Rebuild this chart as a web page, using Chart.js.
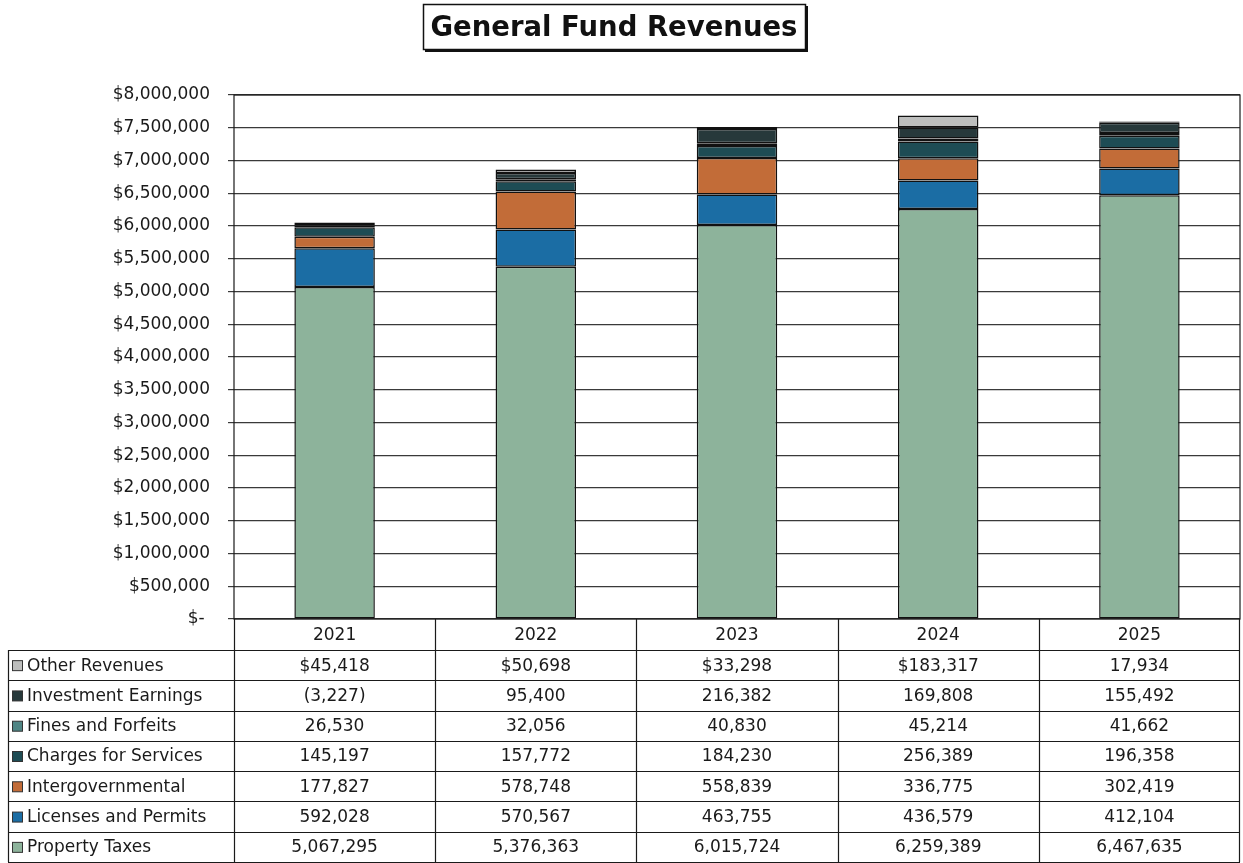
<!DOCTYPE html>
<html>
<head>
<meta charset="utf-8">
<script src="https://cdn.jsdelivr.net/npm/chart.js@4/dist/chart.umd.min.js"></script>
<style>
  html, body { margin: 0; padding: 0; background: #fff; }
  #wrap { width: 1243px; height: 863px; position: relative; }
</style>
</head>
<body>
<div id="wrap"><canvas id="chart"></canvas></div>
<script>
// data
const years = ['2021', '2022', '2023', '2024', '2025'];
const propertyTaxes = [5067295, 5376363, 6015724, 6259389, 6467635];
const licensesPermits = [592028, 570567, 463755, 436579, 412104];
const intergovernmental = [177827, 578748, 558839, 336775, 302419];
const chargesServices = [145197, 157772, 184230, 256389, 196358];
const finesForfeits = [26530, 32056, 40830, 45214, 41662];
const investmentEarnings = [-3227, 95400, 216382, 169808, 155492];
const otherRevenues = [45418, 50698, 33298, 183317, 17934];
// the first table row shows a $ sign in some years only
const otherDollar = [true, true, true, true, false];

const FONT = '"DejaVu Sans", Verdana, sans-serif';

const fmt = (v, dollar) => {
    const s = Math.abs(v).toLocaleString('en-US');
    if (v < 0) return '(' + s + ')';
    return (dollar ? '$' : '') + s;
};

// bottom to top in the stack
const series = [
    { label: 'Property Taxes', data: propertyTaxes, color: '#8db39b' },
    { label: 'Licenses and Permits', data: licensesPermits, color: '#1b6da4' },
    { label: 'Intergovernmental', data: intergovernmental, color: '#c26c38' },
    { label: 'Charges for Services', data: chargesServices, color: '#1e4c54' },
    { label: 'Fines and Forfeits', data: finesForfeits, color: '#4f8584' },
    { label: 'Investment Earnings', data: investmentEarnings, color: '#27393b' },
    { label: 'Other Revenues', data: otherRevenues, color: '#bdbebd' },
];

const titlePlugin = {
    id: 'boxTitle',
    afterDraw(chart) {
        const ctx = chart.ctx;
        ctx.save();
        ctx.font = 'bold 27.5px ' + FONT;
        ctx.fillStyle = '#111';
        ctx.textAlign = 'center';
        ctx.textBaseline = 'middle';
        ctx.fillText('General Fund Revenues', 614, 29);
        ctx.strokeStyle = '#111';
        ctx.lineWidth = 1.5;
        ctx.strokeRect(423.5, 4.5, 382, 45);
        // little shadow on bottom and right
        ctx.lineWidth = 2;
        ctx.beginPath();
        ctx.moveTo(425, 51);
        ctx.lineTo(807, 51);
        ctx.lineTo(807, 6);
        ctx.stroke();
        ctx.restore();
    }
};

const tablePlugin = {
    id: 'dataTable',
    afterDraw(chart) {
        const { ctx, chartArea } = chart;
        const x = chart.scales.x;
        const half = (x.getPixelForValue(1) - x.getPixelForValue(0)) / 2;
        const top = chartArea.bottom;
        const headBottom = 650;
        const bottom = 862;
        const leftEdge = 8;
        const rows = series.slice().reverse();
        const rowH = (bottom - headBottom) / rows.length;

        ctx.save();
        // plot frame
        ctx.strokeStyle = '#1a1a1a';
        ctx.lineWidth = 1.2;
        ctx.strokeRect(chartArea.left, chartArea.top, chartArea.right - chartArea.left, chartArea.bottom - chartArea.top);

        // column lines
        ctx.beginPath();
        years.forEach((y, i) => {
            const c = x.getPixelForValue(i);
            ctx.moveTo(Math.round(c - half) + 0.5, top);
            ctx.lineTo(Math.round(c - half) + 0.5, bottom);
        });
        ctx.moveTo(chartArea.right - 0.5, top);
        ctx.lineTo(chartArea.right - 0.5, bottom);
        ctx.moveTo(leftEdge + 0.5, headBottom);
        ctx.lineTo(leftEdge + 0.5, bottom);
        // row lines
        for (let r = 0; r <= rows.length; r++) {
            const yy = Math.round(headBottom + r * rowH) + 0.5;
            ctx.moveTo(leftEdge, yy);
            ctx.lineTo(chartArea.right, yy);
        }
        ctx.stroke();

        ctx.fillStyle = '#1a1a1a';
        ctx.font = '17px ' + FONT;
        ctx.textBaseline = 'middle';
        ctx.textAlign = 'center';
        years.forEach((y, i) => {
            ctx.fillText(y, x.getPixelForValue(i), (top + headBottom) / 2 + 1);
        });

        rows.forEach((s, r) => {
            const cy = headBottom + r * rowH + rowH / 2 + 1;
            // legend key
            ctx.fillStyle = s.color;
            ctx.fillRect(12.5, cy - 5.5, 10, 10);
            ctx.strokeStyle = '#333';
            ctx.lineWidth = 1;
            ctx.strokeRect(12.5, cy - 5.5, 10, 10);
            ctx.fillStyle = '#1a1a1a';
            ctx.textAlign = 'left';
            ctx.fillText(s.label, 27, cy);
            ctx.textAlign = 'center';
            s.data.forEach((v, i) => {
                const dollar = s.data === otherRevenues && otherDollar[i];
                ctx.fillText(fmt(v, dollar), x.getPixelForValue(i), cy);
            });
        });
        ctx.restore();
    }
};

new Chart(document.getElementById('chart'), {
    type: 'bar',
    data: {
        labels: years,
        datasets: series.map(s => ({
            label: s.label,
            data: s.data,
            backgroundColor: s.color,
            borderColor: '#111',
            borderWidth: 1.5,
            borderSkipped: false,
            barPercentage: 0.4,
            categoryPercentage: 1,
        }))
    },
    options: {
        responsive: true,
        maintainAspectRatio: false,
        animation: false,
        layout: { padding: { top: 95, bottom: 244, left: 0, right: 3 } },
        plugins: {
            legend: { display: false },
            title: { display: false },
            tooltip: { enabled: false },
        },
        scales: {
            x: {
                stacked: true,
                display: false,
            },
            y: {
                stacked: true,
                min: 0,
                max: 8000000,
                afterFit: (scale) => { scale.width = 234; },
                border: { display: false },
                grid: {
                    color: '#3a3a3a',
                    lineWidth: 1.2,
                    tickLength: 6,
                    drawOnChartArea: true,
                },
                ticks: {
                    stepSize: 500000,
                    padding: 18,
                    color: '#1a1a1a',
                    font: { family: FONT, size: 17 },
                    callback: (v) => v === 0 ? '$-\u00a0' : '$' + v.toLocaleString('en-US'),
                }
            }
        }
    },
    plugins: [titlePlugin, tablePlugin]
});
</script>
</body>
</html>
